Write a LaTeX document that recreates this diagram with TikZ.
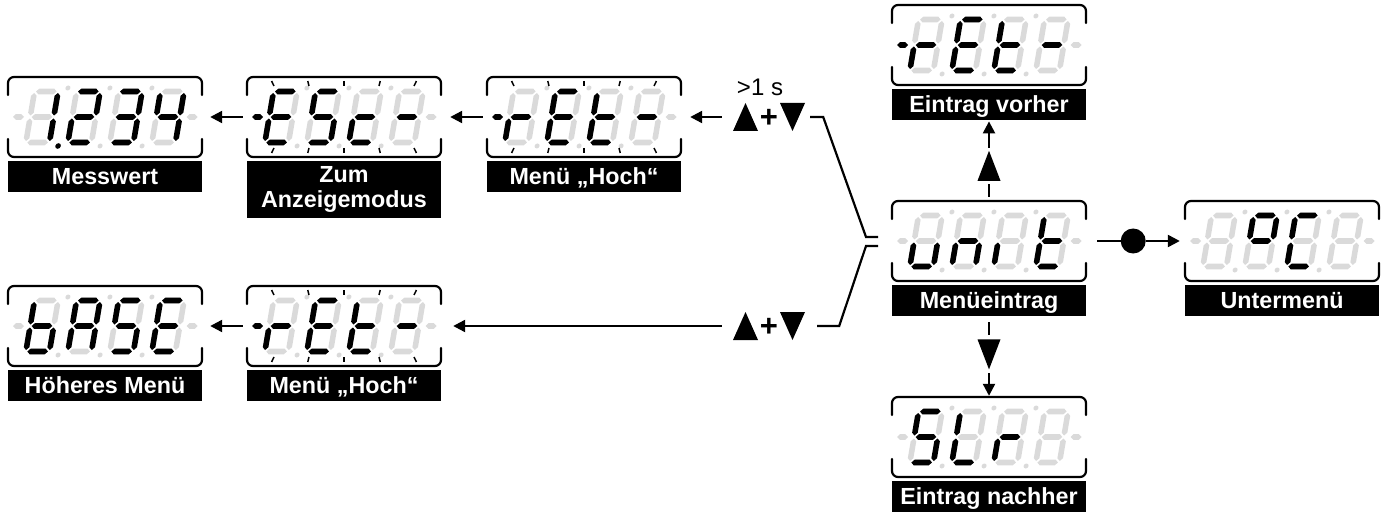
\documentclass[tikz,border=0pt]{standalone}
\usepackage{fontspec}
\setsansfont{Liberation Sans}
\usetikzlibrary{arrows.meta,calc}
\definecolor{segoff}{HTML}{DADADA}

% --- seven-segment primitives (units: 1 = 1pt, y grows downwards) ---
\newcommand\segw{2.8}
\newcommand\hseg[4]{\fill[#1] (#2-#4,#3) -- (#2-#4+\segw,#3-\segw) -- (#2+#4-\segw,#3-\segw) -- (#2+#4,#3) -- (#2+#4-\segw,#3+\segw) -- (#2-#4+\segw,#3+\segw) -- cycle;}
\newcommand\vseg[4]{\fill[#1] (#2,#3) -- (#2+\segw,#3+\segw) -- (#2+\segw,#4-\segw) -- (#2,#4) -- (#2-\segw,#4-\segw) -- (#2-\segw,#3+\segw) -- cycle;}
\newcommand\zsega[1]{\hseg{#1}{0}{-25.5}{10.3}}
\newcommand\zsegg[1]{\hseg{#1}{0}{0}{10.3}}
\newcommand\zsegd[1]{\hseg{#1}{0}{25.5}{10.3}}
\newcommand\zsegf[1]{\vseg{#1}{-11.8}{-24}{-1.5}}
\newcommand\zsegb[1]{\vseg{#1}{11.8}{-24}{-1.5}}
\newcommand\zsege[1]{\vseg{#1}{-11.8}{1.5}{24}}
\newcommand\zsegc[1]{\vseg{#1}{11.8}{1.5}{24}}
\newcommand\zsegx[1]{}

% one italic digit: centre offset, lit segments
\newcommand\sevdigit[2]{%
  \begin{scope}[shift={(#1,40)},xslant=0.17]
    \foreach \s in {a,b,c,d,e,f,g}{\csname zseg\s\endcsname{segoff}}
    \foreach \s in {#2}{\csname zseg\s\endcsname{black}}
  \end{scope}}

% decimal points and upper dots; argument = lit decimal point (0 = none)
\newcommand\dispdots[1]{%
  \begin{scope}[shift={(0,40)},xslant=0.17]
    \foreach \i in {1,2,3}{
      \fill[segoff] (13+42*\i,-29) circle (2.5);
      \fill[segoff] (13+42*\i,29) circle (2.5);}
    \ifnum#1>0 \fill (13+42*#1,29) circle (2.8);\fi
  \end{scope}}

% bracket-shaped display frame with a named box over it
\newcommand\dispframe[1]{%
  \draw[frm] (0,18) -- (0,0) -- (194,0) -- (194,18);
  \draw[frm] (0,62) -- (0,80) -- (194,80) -- (194,62);
  \node[dispbox] (#1) at (97,40) {};}

% outer minus signs; argument = colour of the left one
\newcommand\dispdashes[1]{\hseg{#1}{10.5}{40}{5.5}\hseg{segoff}{184}{40}{5.5}}

% flashing rays above and below the digits
\newcommand\blink{%
  \foreach \o in {-70,-35,0,35,70}{
    \draw[tck] (97+1.035*\o,4) -- (97+\o,9);
    \draw[tck] (97+\o,71) -- (97+1.035*\o,76);}}

\newcommand\labfont{\sffamily\bfseries\fontsize{23.3}{25}\selectfont}
\newcommand\displabel[2]{\node[lab,lab1] (#1) at (97,84) {#2};}

% pressed keys: up, plus, down
\newcommand\keypair[1]{%
  \begin{scope}[shift={(#1)}]
    \fill (-36,14) -- (-11,14) -- (-23.5,-14) -- cycle;
    \fill (11,-14) -- (36,-14) -- (23.5,14) -- cycle;
    \node[font=\sffamily\bfseries\fontsize{31}{31}\selectfont,inner sep=0] at (0,1) {+};
  \end{scope}}

\tikzset{
  frm/.style={line width=2.2pt,rounded corners=6pt,line cap=round},
  dispbox/.style={minimum width=194pt,minimum height=80pt,inner sep=0pt,draw=none},
  tck/.style={line width=1.5pt},
  lab/.style={anchor=north,fill=black,text=white,minimum width=194pt,
    minimum height=31pt,inner sep=0pt,font=\labfont},
  lab1/.style={text height=16.5pt,text depth=0pt},
  keybox/.style={minimum width=72pt,minimum height=30pt,inner sep=0pt,draw=none},
  conn/.style={line width=2.3pt},
  arr/.style={line width=2.3pt,-{Triangle[length=12pt,width=12pt]}},
  brk/.style={line width=2.2pt,line join=miter}
}

\begin{document}
\begin{tikzpicture}[x=1pt,y=-1pt]
\useasboundingbox (0,0) rectangle (1384,513);

% ---- upper row: measured value, escape, menu up ----
\begin{scope}[shift={(8,77)}]
  \dispframe{d1}\dispdashes{segoff}
  \sevdigit{34}{b,c}\sevdigit{76}{a,b,g,e,d}\sevdigit{118}{a,b,g,c,d}\sevdigit{160}{f,g,b,c}
  \dispdots{1}
  \displabel{l1}{Messwert}
\end{scope}
\begin{scope}[shift={(247,77)}]
  \dispframe{d2}\dispdashes{black}
  \sevdigit{34}{a,f,g,e,d}\sevdigit{76}{a,f,g,c,d}\sevdigit{118}{g,e,d}\sevdigit{160}{g}
  \dispdots{0}\blink
  \node[lab,minimum height=57pt,align=center] (l2) at (97,84) {Zum\\Anzeigemodus};
\end{scope}
\begin{scope}[shift={(487,77)}]
  \dispframe{d3}\dispdashes{black}
  \sevdigit{34}{e,g}\sevdigit{76}{a,f,g,e,d}\sevdigit{118}{f,g,e,d}\sevdigit{160}{g}
  \dispdots{0}\blink
  \displabel{l3}{Menü „Hoch“}
\end{scope}

% ---- lower row: higher menu, menu up ----
\begin{scope}[shift={(8,286)}]
  \dispframe{d4}\dispdashes{segoff}
  \sevdigit{34}{f,e,d,c,g}\sevdigit{76}{a,b,c,e,f,g}\sevdigit{118}{a,f,g,c,d}\sevdigit{160}{a,f,g,e,d}
  \dispdots{0}
  \displabel{l4}{Höheres Menü}
\end{scope}
\begin{scope}[shift={(247,286)}]
  \dispframe{d5}\dispdashes{black}
  \sevdigit{34}{e,g}\sevdigit{76}{a,f,g,e,d}\sevdigit{118}{f,g,e,d}\sevdigit{160}{g}
  \dispdots{0}\blink
  \displabel{l5}{Menü „Hoch“}
\end{scope}

% ---- right column: previous entry, menu entry, next entry, submenu ----
\begin{scope}[shift={(892,5)}]
  \dispframe{d6}\dispdashes{black}
  \sevdigit{34}{e,g}\sevdigit{76}{a,f,g,e,d}\sevdigit{118}{f,g,e,d}\sevdigit{160}{g}
  \dispdots{0}
  \displabel{l6}{Eintrag vorher}
\end{scope}
\begin{scope}[shift={(892,201)}]
  \dispframe{d7}\dispdashes{segoff}
  \sevdigit{34}{e,d,c}\sevdigit{76}{e,g,c}\sevdigit{118}{e}\sevdigit{160}{f,g,e,d}
  \dispdots{0}
  \displabel{l7}{Menüeintrag}
\end{scope}
\begin{scope}[shift={(1185,201)}]
  \dispframe{d8}\dispdashes{segoff}
  \sevdigit{34}{x}\sevdigit{76}{a,b,f,g}\sevdigit{118}{a,f,e,d}\sevdigit{160}{x}
  \dispdots{0}
  \displabel{l8}{Untermenü}
\end{scope}
\begin{scope}[shift={(892,397)}]
  \dispframe{d9}\dispdashes{segoff}
  \sevdigit{34}{a,f,g,c,d}\sevdigit{76}{f,e,d}\sevdigit{118}{e,g}\sevdigit{160}{x}
  \dispdots{0}
  \displabel{l9}{Eintrag nachher}
\end{scope}

% ---- key combinations ----
\node[keybox] (k1) at (769,117) {};
\node[keybox] (k2) at (769,326) {};
\keypair{k1}\keypair{k2}
\node[font=\sffamily\fontsize{24}{24}\selectfont,inner sep=0pt] (t1) at (760,87) {>1 s};

% ---- horizontal arrows ----
\draw[arr,shorten <=4pt,shorten >=8pt] (d2.west) -- (d1.east);
\draw[arr,shorten <=4pt,shorten >=9pt] (d3.west) -- (d2.east);
\draw[arr,shorten <=11pt,shorten >=9pt] (k1.west) -- (d3.east);
\draw[arr,shorten <=4pt,shorten >=8pt] (d5.west) -- (d4.east);
\draw[arr,shorten <=11pt,shorten >=12pt] (k2.west) -- (d5.east);

% ---- brackets from the keys to the menu entry ----
\coordinate (j1) at (866,237);
\coordinate (j2) at (866,246);
\draw[brk] ($(k1.east)+(5,0)$) -- ++(13,0) -- (j1) -- ++(12,0);
\draw[brk] ($(k2.east)+(12,0)$) -- ++(22,0) -- (j2) -- ++(12,0);

% ---- up key to previous entry ----
\draw[conn] ($(d7.north)+(0,-4)$) -- ++(0,-13);
\fill ($(d7.north)+(-11.5,-20)$) -- ++(23,0) -- ++(-11.5,-30) -- cycle;
\draw[arr,shorten >=1pt] ($(d7.north)+(0,-53)$) -- (l6.south);

% ---- down key to next entry ----
\draw[conn] ($(l7.south)+(0,6)$) -- ++(0,13);
\fill ($(l7.south)+(-11.5,23)$) -- ++(23,0) -- ++(-11.5,30) -- cycle;
\draw[arr,shorten >=1pt] ($(l7.south)+(0,57)$) -- (d9.north);

% ---- set key to submenu ----
\coordinate (cdot) at ($(d7.east)+(47,0)$);
\draw[conn] ($(d7.east)+(11,0)$) -- ($(cdot)+(-12.5,0)$);
\fill (cdot) circle (12.5);
\draw[arr,shorten >=5pt] ($(cdot)+(12.5,0)$) -- (d8.west);
\end{tikzpicture}
\end{document}
